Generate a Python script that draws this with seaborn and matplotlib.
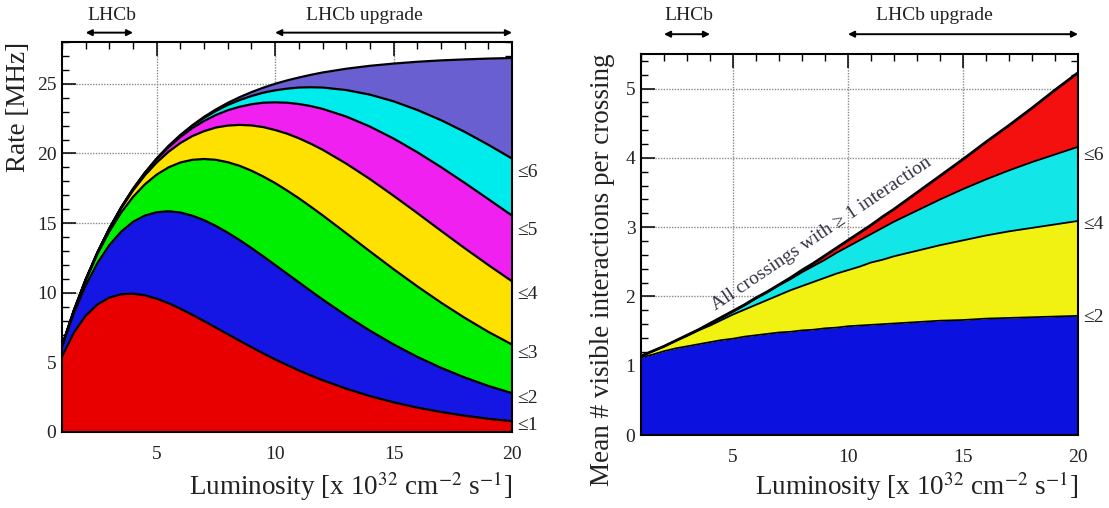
import matplotlib
matplotlib.use("Agg")
import matplotlib.pyplot as plt
from matplotlib.ticker import MultipleLocator
import seaborn as sns

# ---------------- data ----------------
lumi = [1, 1.5, 2, 2.5, 3, 3.5, 4, 4.5, 5, 5.5, 6, 6.5, 7, 7.5, 8, 8.5, 9, 9.5, 10, 10.5,
        11, 11.5, 12, 13, 14, 15, 16, 17, 18, 19, 20]

# Left panel: rate [MHz] of crossings with <= k interactions
rate_le1 = [5.41, 7.13, 8.35, 9.16, 9.65, 9.89, 9.93, 9.81, 9.57, 9.24, 8.85, 8.42, 7.96, 7.49,
            7.02, 6.55, 6.09, 5.64, 5.21, 4.81, 4.42, 4.06, 3.72, 3.11, 2.58, 2.13, 1.75, 1.44,
            1.17, 0.95, 0.78]
rate_le2 = [6.12, 8.52, 10.52, 12.14, 13.42, 14.39, 15.09, 15.54, 15.78, 15.85, 15.76, 15.53,
            15.21, 14.79, 14.31, 13.78, 13.21, 12.61, 11.99, 11.37, 10.75, 10.13, 9.52, 8.36,
            7.28, 6.29, 5.40, 4.61, 3.92, 3.31, 2.79]
rate_le3 = [6.18, 8.70, 10.89, 12.79, 14.40, 15.76, 16.88, 17.78, 18.48, 19.00, 19.35, 19.54,
            19.60, 19.54, 19.37, 19.11, 18.76, 18.34, 17.87, 17.34, 16.78, 16.18, 15.56, 14.27,
            12.97, 11.69, 10.46, 9.29, 8.20, 7.19, 6.28]
rate_le4 = [6.18, 8.72, 10.94, 12.89, 14.59, 16.07, 17.34, 18.43, 19.35, 20.12, 20.75, 21.24,
            21.60, 21.86, 22.00, 22.05, 22.01, 21.89, 21.68, 21.42, 21.09, 20.70, 20.27, 19.27,
            18.16, 16.96, 15.72, 14.45, 13.20, 11.99, 10.82]
rate_le5 = [6.18, 8.72, 10.95, 12.90, 14.62, 16.12, 17.44, 18.59, 19.58, 20.44, 21.18, 21.81,
            22.33, 22.76, 23.10, 23.35, 23.53, 23.64, 23.67, 23.64, 23.55, 23.40, 23.20, 22.65,
            21.93, 21.07, 20.09, 19.02, 17.89, 16.72, 15.54]
rate_le6 = [6.18, 8.72, 10.95, 12.90, 14.62, 16.13, 17.45, 18.61, 19.63, 20.52, 21.30, 21.97,
            22.55, 23.05, 23.48, 23.83, 24.12, 24.36, 24.53, 24.65, 24.73, 24.75, 24.73, 24.55,
            24.22, 23.74, 23.12, 22.39, 21.55, 20.62, 19.63]
rate_all = [6.18, 8.72, 10.95, 12.91, 14.62, 16.13, 17.46, 18.62, 19.64, 20.54, 21.33, 22.02,
            22.63, 23.16, 23.63, 24.04, 24.40, 24.72, 25.00, 25.24, 25.45, 25.64, 25.81, 26.08,
            26.29, 26.45, 26.58, 26.68, 26.75, 26.81, 26.85]
rate_labels = ["≤1", "≤2", "≤3", "≤4", "≤5", "≤6"]

# Right panel: mean # visible interactions per crossing
mean_le2 = [1.12, 1.16, 1.21, 1.25, 1.28, 1.31, 1.34, 1.37, 1.39, 1.42, 1.44, 1.46, 1.48, 1.49,
            1.51, 1.52, 1.54, 1.55, 1.57, 1.58, 1.59, 1.60, 1.61, 1.63, 1.65, 1.66, 1.68, 1.69,
            1.70, 1.71, 1.72]
mean_le4 = [1.14, 1.21, 1.28, 1.36, 1.43, 1.51, 1.58, 1.66, 1.74, 1.81, 1.88, 1.95, 2.02, 2.09,
            2.15, 2.21, 2.27, 2.33, 2.38, 2.43, 2.49, 2.53, 2.58, 2.66, 2.74, 2.81, 2.88, 2.94,
            2.99, 3.04, 3.09]
mean_le6 = [1.14, 1.21, 1.28, 1.36, 1.44, 1.52, 1.61, 1.69, 1.78, 1.87, 1.97, 2.06, 2.16, 2.25,
            2.35, 2.44, 2.53, 2.63, 2.72, 2.81, 2.90, 2.99, 3.08, 3.24, 3.40, 3.55, 3.69, 3.82,
            3.94, 4.05, 4.16]
mean_all = [1.14, 1.21, 1.28, 1.36, 1.44, 1.52, 1.61, 1.70, 1.79, 1.88, 1.98, 2.07, 2.17, 2.27,
            2.38, 2.48, 2.59, 2.70, 2.81, 2.92, 3.03, 3.15, 3.26, 3.50, 3.74, 3.98, 4.23, 4.47,
            4.72, 4.98, 5.23]
mean_labels = ["≤2", "≤4", "≤6"]

# ---------------- style ----------------
sns.set_theme(style="ticks")
plt.rcParams["font.family"] = ["Liberation Serif", "DejaVu Serif"]
plt.rcParams["mathtext.fontset"] = "stix"
plt.rcParams["axes.linewidth"] = 1.5
plt.rcParams["axes.axisbelow"] = True

left_colors = ["#e80000", "#1616e4", "#00ee00", "#ffe100", "#f020f0", "#00ecec", "#6a5fd0"]
right_colors = ["#0b12e0", "#f2f212", "#12e6e6", "#f51010"]
label_y_left = [0.5, 2.4, 5.65, 9.85, 14.5, 18.6]
label_y_right = [1.70, 3.04, 4.04]

fig = plt.figure(figsize=(11.09, 5.08), dpi=100)
axL = fig.add_axes([62 / 1109, 1 - 432 / 508, 450 / 1109, 390 / 508])
axR = fig.add_axes([641 / 1109, 1 - 435 / 508, 437 / 1109, 381 / 508])


def style_axis(ax, xlim, ylim, ymajor, yminor, hgrid):
    ax.set_xlim(*xlim)
    ax.set_ylim(*ylim)
    ax.xaxis.set_major_locator(MultipleLocator(5))
    ax.xaxis.set_minor_locator(MultipleLocator(1))
    ax.yaxis.set_major_locator(MultipleLocator(ymajor))
    ax.yaxis.set_minor_locator(MultipleLocator(yminor))
    ax.tick_params(which="both", direction="in", top=True, right=True,
                   color="black", labelsize=14, labelcolor="#222222")
    ax.tick_params(which="major", length=10, width=1.1)
    ax.tick_params(which="minor", length=5, width=1.0)
    ax.tick_params(axis="x", pad=10)
    ax.tick_params(axis="y", pad=4)
    for s in ax.spines.values():
        s.set_color("black")
        s.set_linewidth(1.5)
    for v in [5, 10, 15]:
        ax.axvline(v, color="#8a8a8a", lw=1.0, ls=(0, (1, 1)), zorder=0.4)
    for h in hgrid:
        ax.axhline(h, color="#8a8a8a", lw=1.0, ls=(0, (1, 1)), zorder=0.4)
    ax.set_xlabel(r"Luminosity [x 10$^{32}$ cm$^{-2}$ s$^{-1}$]", fontsize=19.5,
                  loc="right", color="#222222")


def draw_arrows(ax, y_arrow, y_text):
    tr = ax.get_xaxis_transform()
    for (x0, x1, xt, txt) in [(2, 4, 3.1, "LHCb"), (10, 20, 13.75, "LHCb upgrade")]:
        ax.annotate("", xy=(x1, y_arrow), xytext=(x0, y_arrow), xycoords=tr, textcoords=tr,
                    arrowprops=dict(arrowstyle="<|-|>", color="black", lw=1.4,
                                    mutation_scale=9, shrinkA=0, shrinkB=0),
                    annotation_clip=False)
        ax.text(xt, y_text, txt, transform=tr, ha="center", va="center",
                fontsize=14, color="#222222")


# ---------------- left panel ----------------
style_axis(axL, (1, 20), (0, 28), 5, 1, [5, 10, 15, 20, 25])
left_series = [rate_le1, rate_le2, rate_le3, rate_le4, rate_le5, rate_le6, rate_all]
lower = [0] * len(lumi)
for series, col in zip(left_series, left_colors):
    axL.fill_between(lumi, lower, series, color=col, lw=0, zorder=1)
    lower = series
for series in left_series:
    sns.lineplot(x=lumi, y=series, ax=axL, color="black", lw=1.6,
                 estimator=None, sort=False, zorder=3)
ytr = axL.get_yaxis_transform()
for lab, yy in zip(rate_labels, label_y_left):
    axL.text(1.012, yy, lab, transform=ytr, ha="left", va="center", fontsize=14, color="#222222")
axL.set_ylabel("Rate [MHz]", fontsize=19.5, loc="top", color="#222222")
axL.yaxis.set_label_coords(-0.068, 1.0)
axL.xaxis.set_label_coords(1.0, -0.095)
draw_arrows(axL, 1.024, 1.068)

# ---------------- right panel ----------------
style_axis(axR, (1, 20), (0, 5.5), 1, 0.2, [1, 2, 3, 4, 5])
right_series = [mean_le2, mean_le4, mean_le6, mean_all]
lower = [0] * len(lumi)
for series, col in zip(right_series, right_colors):
    axR.fill_between(lumi, lower, series, color=col, lw=0, zorder=1)
    lower = series
for series, lw in zip(right_series, [1.3, 1.3, 1.3, 2.0]):
    sns.lineplot(x=lumi, y=series, ax=axR, color="black", lw=lw,
                 estimator=None, sort=False, zorder=3)
ytr = axR.get_yaxis_transform()
for lab, yy in zip(mean_labels, label_y_right):
    axR.text(1.012, yy, lab, transform=ytr, ha="left", va="center", fontsize=14, color="#222222")
axR.text(4.25, 1.80, "All crossings with ≥ 1 interaction", rotation=34,
         rotation_mode="anchor", ha="left", va="baseline", fontsize=14, color="#333344")
axR.set_ylabel("Mean # visible interactions per crossing", fontsize=19.5, loc="top",
               color="#222222")
axR.yaxis.set_label_coords(-0.06, 1.0)
axR.xaxis.set_label_coords(1.0, -0.09)
draw_arrows(axR, 1.052, 1.10)

fig.savefig("out.png", dpi=100)
